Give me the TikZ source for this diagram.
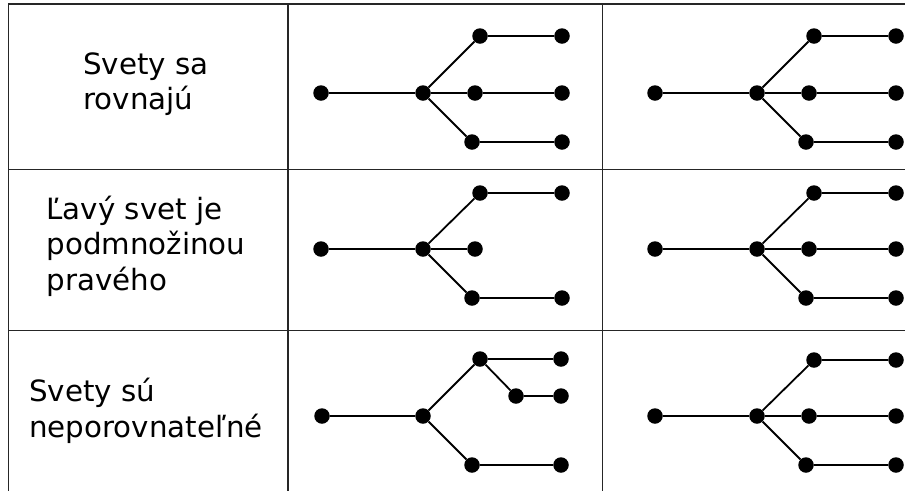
\documentclass[tikz,border=0pt]{standalone}
\usepackage{fontspec}
\setmainfont{DejaVu Sans}
\begin{document}
\begin{tikzpicture}[x=1pt,y=-1pt,
  grid/.style={line width=1.8pt,draw=black!85},
  edge/.style={line width=1.8pt},
  dot/.style={circle,fill=black,inner sep=0pt,minimum size=15.5pt},
  label/.style={align=left,inner sep=0pt,font=\fontsize{29.3}{35.5}\selectfont}]
\useasboundingbox (0,0) rectangle (905,491);

% table rules
\draw[grid] (905,4) -- (8.5,4) -- (8.5,491);
\draw[grid] (288,4) -- (288,491);
\draw[grid] (602.5,4) -- (602.5,491);
\draw[grid] (8.5,169.5) -- (905,169.5);
\draw[grid] (8.5,330.5) -- (905,330.5);

% row labels
\node[label] (l1) at (146,84) {Svety sa\\rovnajú};
\node[label] (l2) at (146,246) {Ľavý svet je\\podmnožinou\\pravého};
\node[label] (l3) at (146,411) {Svety sú\\neporovnateľné};

% full tree: #1 prefix, #2 x of root, #3 top y, #4 middle y, #5 bottom y
\newcommand\fulltree[5]{%
  \node[dot] (#1r) at (#2,#4) {};
  \node[dot] (#1b) at (#2+102,#4) {};
  \node[dot] (#1t) at (#2+159,#3) {};
  \node[dot] (#1m) at (#2+154,#4) {};
  \node[dot] (#1d) at (#2+151,#5) {};
  \node[dot] (#1te) at (#2+241,#3) {};
  \node[dot] (#1me) at (#2+241,#4) {};
  \node[dot] (#1de) at (#2+241,#5) {};
  \draw[edge] (#1r) -- (#1b) -- (#1m) -- (#1me);
  \draw[edge] (#1b) -- (#1t) -- (#1te);
  \draw[edge] (#1b) -- (#1d) -- (#1de);
}

\fulltree{a}{321}{36}{93}{142}
\fulltree{b}{655}{36}{93}{142}
\fulltree{d}{655}{193}{249}{298}
\fulltree{f}{655}{360}{416}{465}

% row 2, left world: middle branch ends early
\node[dot] (cr) at (321,249) {};
\node[dot] (cb) at (423,249) {};
\node[dot] (ct) at (480,193) {};
\node[dot] (cm) at (475,249) {};
\node[dot] (cd) at (472,298) {};
\node[dot] (cte) at (562,193) {};
\node[dot] (cde) at (562,298) {};
\draw[edge] (cr) -- (cb) -- (cm);
\draw[edge] (cb) -- (ct) -- (cte);
\draw[edge] (cb) -- (cd) -- (cde);

% row 3, left world: second branch splits off the upper one
\node[dot] (er) at (322,416) {};
\node[dot] (eb) at (423,416) {};
\node[dot] (et) at (480,359) {};
\node[dot] (es) at (516,396) {};
\node[dot] (ed) at (472,465) {};
\node[dot] (ete) at (561,359) {};
\node[dot] (ese) at (561,396) {};
\node[dot] (ede) at (561,465) {};
\draw[edge] (er) -- (eb) -- (et) -- (ete);
\draw[edge] (et) -- (es) -- (ese);
\draw[edge] (eb) -- (ed) -- (ede);
\end{tikzpicture}
\end{document}
